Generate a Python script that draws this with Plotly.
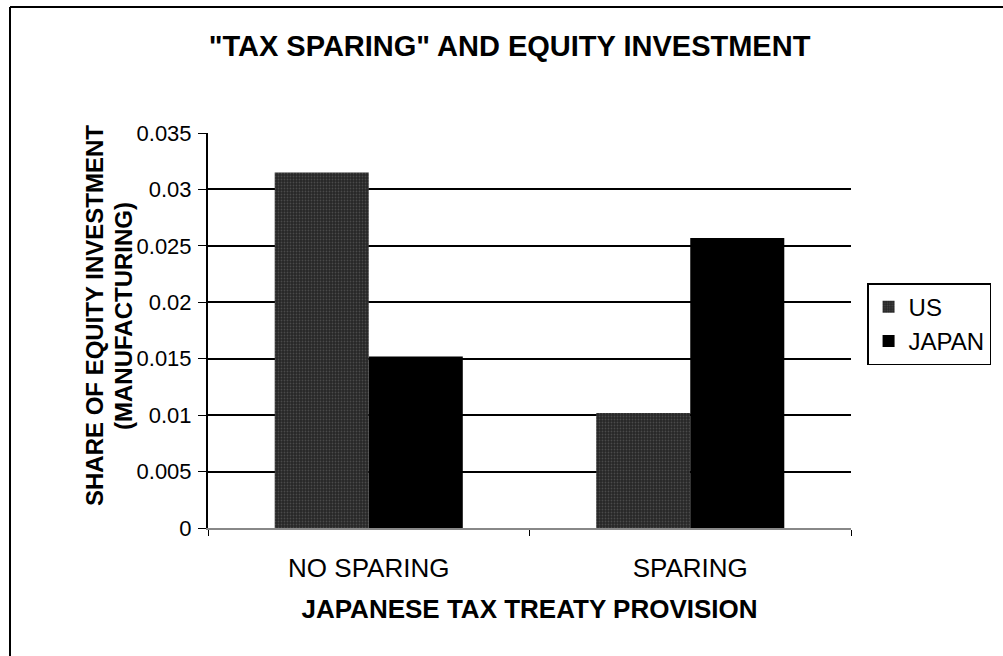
import plotly.graph_objects as go

categories = ["NO SPARING", "SPARING"]
us_values = [0.0315, 0.0102]
japan_values = [0.0152, 0.0257]
y_ticks = [0, 0.005, 0.01, 0.015, 0.02, 0.025, 0.03, 0.035]
y_tick_labels = ["0", "0.005", "0.01", "0.015", "0.02", "0.025", "0.03", "0.035"]
y_title_lines = ["SHARE OF EQUITY INVESTMENT", "(MANUFACTURING)"]

FONT = "Liberation Sans, Arial, sans-serif"

fig = go.Figure()
fig.add_trace(go.Bar(
    name="US", x=categories, y=us_values,
    marker=dict(color="#303030", line=dict(width=0),
                pattern=dict(shape=".", fgcolor="#6e6e6e", bgcolor="#262626", size=3, solidity=0.3)),
))
fig.add_trace(go.Bar(
    name="JAPAN", x=categories, y=japan_values,
    marker=dict(color="#000000", line=dict(width=0)),
))

fig.update_layout(
    width=1003, height=656,
    margin=dict(l=208, r=152, t=133, b=128),
    paper_bgcolor="white", plot_bgcolor="white",
    barmode="group", bargap=0.415, bargroupgap=0,
    font=dict(family=FONT, color="black", size=22),
    title=dict(text='<b>"TAX SPARING" AND EQUITY INVESTMENT</b>',
               x=0.508, xanchor="center", y=0.93, yanchor="middle",
               font=dict(family=FONT, size=29, color="black")),
    legend=dict(x=1.025, y=0.62, xanchor="left", yanchor="top",
                bordercolor="black", borderwidth=1.5, bgcolor="white",
                font=dict(family=FONT, size=24, color="black"),
                itemwidth=30, tracegroupgap=0),
    showlegend=True,
)

fig.update_yaxes(
    range=[0, 0.035], tickvals=y_ticks, ticktext=y_tick_labels,
    showgrid=True, gridcolor="black", gridwidth=2,
    showline=True, linecolor="black", linewidth=2,
    ticks="outside", ticklen=8, tickcolor="black",
    tickfont=dict(family=FONT, size=22, color="black"),
    ticklabelstandoff=2,
    zeroline=False,
)
fig.update_xaxes(
    showline=True, linecolor="#888888", linewidth=2,
    ticks="outside", tickson="boundaries", ticklen=6, tickcolor="black",
    tickfont=dict(family=FONT, size=26, color="black"),
    ticklabelstandoff=16,
    title=dict(text="<b>JAPANESE TAX TREATY PROVISION</b>",
               font=dict(family=FONT, size=26, color="black"), standoff=18),
)

# y-axis title as two rotated lines
for i, line in enumerate(y_title_lines):
    fig.add_annotation(
        text=f"<b>{line}</b>", textangle=-90, showarrow=False,
        xref="paper", yref="paper",
        x=(94 + 29 * i - 208) / 643, y=(528 - 316) / 395,
        xanchor="center", yanchor="middle",
        font=dict(family=FONT, size=24, color="black"),
    )

# outer chart frame (left and top edges visible)
fig.add_shape(type="line", xref="paper", yref="paper",
              x0=(10 - 208) / 643, x1=(10 - 208) / 643,
              y0=(528 - 656) / 395, y1=(528 - 7) / 395,
              line=dict(color="black", width=2))
fig.add_shape(type="line", xref="paper", yref="paper",
              x0=(10 - 208) / 643, x1=(1003 - 208) / 643,
              y0=(528 - 7) / 395, y1=(528 - 7) / 395,
              line=dict(color="black", width=2))

fig.write_html("out.html")
